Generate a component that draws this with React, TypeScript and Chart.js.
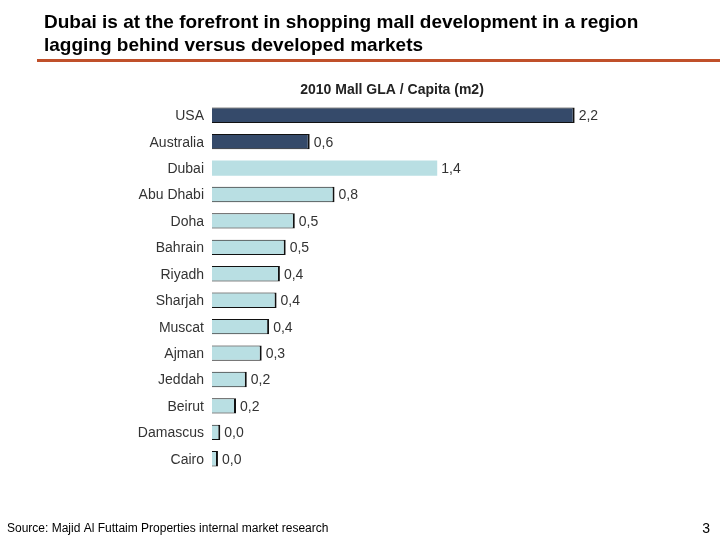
import React, { useEffect, useRef } from "react";
import { Chart, registerables } from "chart.js";

Chart.register(...registerables);

const categories = [
  "USA", "Australia", "Dubai", "Abu Dhabi", "Doha", "Bahrain", "Riyadh",
  "Sharjah", "Muscat", "Ajman", "Jeddah", "Beirut", "Damascus", "Cairo",
];
const values = [2.19, 0.59, 1.36, 0.74, 0.5, 0.445, 0.41, 0.39, 0.345, 0.3, 0.21, 0.145, 0.05, 0.036];
const valueLabels = ["2,2", "0,6", "1,4", "0,8", "0,5", "0,5", "0,4", "0,4", "0,4", "0,3", "0,2", "0,2", "0,0", "0,0"];
const developed = [true, true, false, false, false, false, false, false, false, false, false, false, false, false];
const bordered = [true, true, false, true, true, true, true, true, true, true, true, true, true, true];

const titleLines = [
  "Dubai is at the forefront in shopping mall development in a region",
  "lagging behind versus developed markets",
];
const subtitle = "2010 Mall GLA / Capita (m2)";
const sourceText = "Source: Majid Al Futtaim Properties internal market research";
const pageNumber = "3";

const decorPlugin = {
  id: "decor",
  afterDraw(chart: any) {
    const ctx = chart.ctx;
    ctx.save();
    ctx.fillStyle = "#000";
    ctx.font = "bold 19px 'Liberation Sans', Arial, sans-serif";
    ctx.textBaseline = "alphabetic";
    ctx.textAlign = "left";
    ctx.fillText(titleLines[0], 44, 28);
    ctx.fillText(titleLines[1], 44, 51);
    ctx.strokeStyle = "#C0502A";
    ctx.lineWidth = 3;
    ctx.beginPath();
    ctx.moveTo(37, 60.5);
    ctx.lineTo(720, 60.5);
    ctx.stroke();
    ctx.fillStyle = "#222";
    ctx.font = "bold 14px 'Liberation Sans', Arial, sans-serif";
    ctx.textAlign = "center";
    ctx.fillText(subtitle, 392, 94);
    ctx.font = "12px 'Liberation Sans', Arial, sans-serif";
    ctx.textAlign = "left";
    ctx.fillStyle = "#000";
    ctx.fillText(sourceText, 7, 532);
    ctx.font = "14px 'Liberation Sans', Arial, sans-serif";
    ctx.textAlign = "right";
    ctx.fillText(pageNumber, 710, 533);

    // value labels
    const meta = chart.getDatasetMeta(0);
    ctx.font = "14px 'Liberation Sans', Arial, sans-serif";
    ctx.fillStyle = "#333";
    ctx.textAlign = "left";
    ctx.textBaseline = "middle";
    meta.data.forEach((bar: any, i: number) => {
      ctx.fillText(valueLabels[i], bar.x + 4, bar.y + 1);
    });
    ctx.restore();
  },
};

export default function App() {
  const ref = useRef<HTMLCanvasElement>(null);
  useEffect(() => {
    if (!ref.current) return;
    const chart = new Chart(ref.current, {
      type: "bar",
      data: {
        labels: categories,
        datasets: [
          {
            data: values,
            backgroundColor: developed.map((d) => (d ? "#354A6A" : "#B9DFE3")),
            borderColor: "#111",
            borderWidth: bordered.map((b) => (b ? { top: 1, right: 2, bottom: 1, left: 0 } : 0)) as any,
            borderSkipped: "start",
            barPercentage: 0.58,
            categoryPercentage: 1,
          },
        ],
      },
      options: {
        indexAxis: "y",
        animation: false,
        responsive: false,
        devicePixelRatio: 1,
        layout: { padding: { top: 102, bottom: 68, right: 94, left: 0 } },
        plugins: { legend: { display: false }, tooltip: { enabled: false } },
        scales: {
          x: { display: false, min: 0, max: 2.5 },
          y: {
            grid: { display: false },
            border: { display: false },
            afterFit: (scale: any) => {
              scale.width = 212;
            },
            ticks: {
              color: "#333",
              padding: 0,
              labelOffset: 1,
              font: { size: 14, family: "'Liberation Sans', Arial, sans-serif" },
            },
          },
        },
      },
      plugins: [decorPlugin],
    });
    return () => chart.destroy();
  }, []);
  return (
    <div style={{ position: "absolute", left: 0, top: 0, width: 720, height: 540, background: "#fff" }}>
      <canvas ref={ref} width={720} height={540} style={{ width: 720, height: 540 }} />
    </div>
  );
}
